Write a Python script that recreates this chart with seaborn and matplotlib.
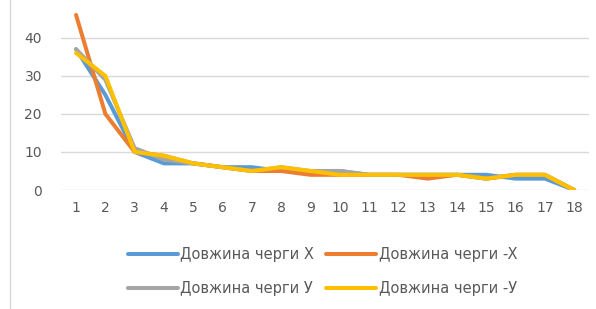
import matplotlib
matplotlib.use("Agg")
import matplotlib.pyplot as plt
from matplotlib.lines import Line2D
import pandas as pd
import seaborn as sns

steps = list(range(1, 19))
queue_x = [37, 25, 10, 7, 7, 6, 6, 5, 5, 5, 4, 4, 4, 4, 4, 3, 3, 0]
queue_neg_x = [46, 20, 10, 9, 7, 6, 5, 5, 4, 4, 4, 4, 3, 4, 3, 4, 4, 0]
queue_y = [37, 29, 11, 8, 7, 6, 5, 6, 5, 5, 4, 4, 4, 4, 3, 4, 4, 0]
queue_neg_y = [36, 30, 10, 9, 7, 6, 5, 6, 5, 4, 4, 4, 4, 4, 3, 4, 4, 0]
series_names = ["Довжина черги X", "Довжина черги -X", "Довжина черги У", "Довжина черги -У"]
palette = ["#5B9BD5", "#ED7D31", "#A5A5A5", "#FFC000"]


def build_frame():
    rows = []
    for name, vals in zip(series_names, [queue_x, queue_neg_x, queue_y, queue_neg_y]):
        for s, v in zip(steps, vals):
            rows.append({"step": s, "value": v, "series": name})
    return pd.DataFrame(rows)


def main():
    df = build_frame()
    sns.set_style("white")
    plt.rcParams['font.family'] = ['DejaVu Sans']

    fig = plt.figure(figsize=(5.96, 3.09), dpi=100)
    ax = fig.add_axes([0.103, 0.385, 0.885, 0.6])

    sns.lineplot(data=df, x="step", y="value", hue="series", palette=palette,
                 hue_order=series_names, linewidth=2.9, ax=ax)

    ax.set_xlim(0.5, 18.5)
    ax.set_ylim(0, 48.7)
    ax.set_xticks(steps)
    ax.set_yticks([0, 10, 20, 30, 40])
    ax.tick_params(axis='both', length=0, labelsize=10, labelcolor="#595959")
    ax.tick_params(axis='y', pad=14)
    ax.tick_params(axis='x', pad=8)
    ax.yaxis.grid(True, color="#D9D9D9", linewidth=1)
    ax.set_axisbelow(True)
    for sp in ax.spines.values():
        sp.set_visible(False)
    ax.set_xlabel("")
    ax.set_ylabel("")

    # legend fills column-wise, so reorder to get X / -X on the first row
    handles, labels = ax.get_legend_handles_labels()
    order = [0, 2, 1, 3]
    ax.legend([handles[i] for i in order], [labels[i] for i in order],
              loc="upper center", bbox_to_anchor=(0.495, -0.235), ncol=2, frameon=False,
              fontsize=10.5, labelcolor="#595959", handlelength=3.4, handletextpad=0.2,
              columnspacing=0.8, labelspacing=1.3)

    fig.add_artist(Line2D([0.017, 0.017], [0.0, 1.0], color="#D9D9D9", linewidth=1))

    fig.savefig("out.png", dpi=100)


if __name__ == '__main__':
    main()
